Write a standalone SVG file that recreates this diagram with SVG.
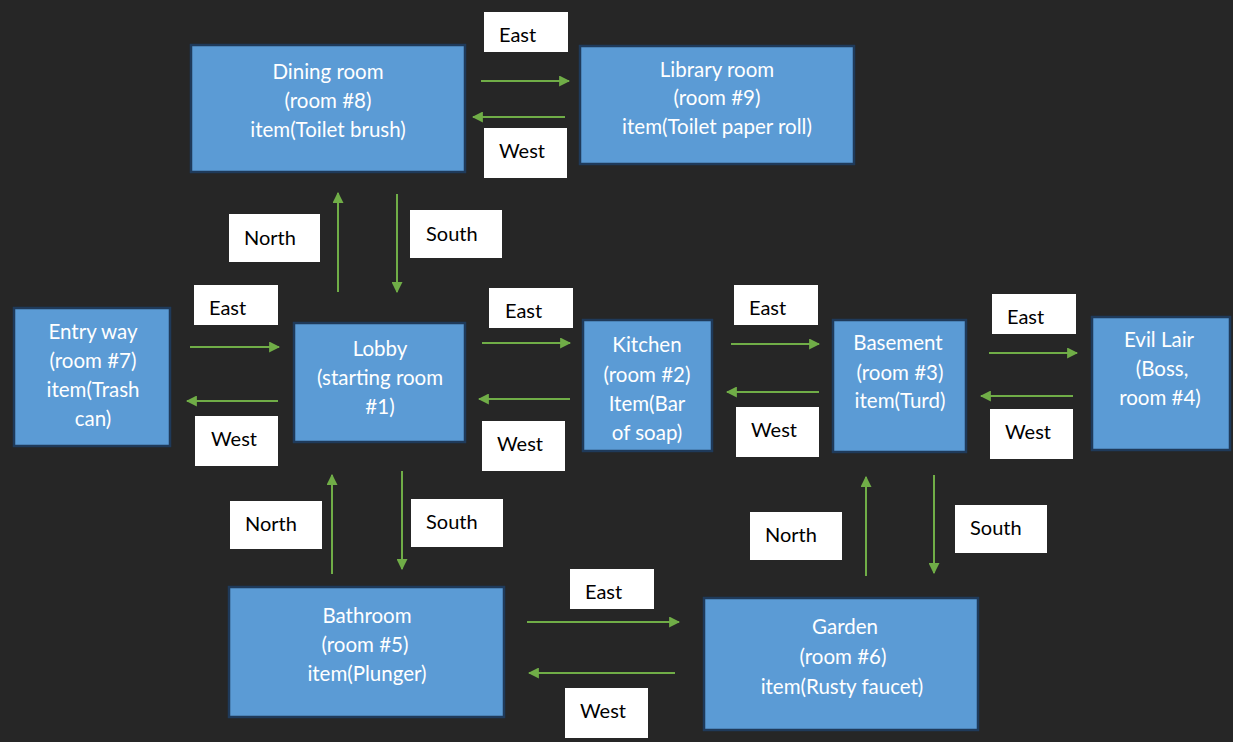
<svg xmlns="http://www.w3.org/2000/svg" width="1233" height="742" viewBox="0 0 1233 742">
<style>
.node rect{fill:#5B9BD5;stroke:#1F3A5A;stroke-width:2.5}
.node text{fill:#FFFFFF;font-family:Lato,"Open Sans","Liberation Sans",sans-serif;font-size:20.5px;text-anchor:middle;dominant-baseline:central}
.lbl rect{fill:#FFFFFF}
.lbl text{fill:#000000;font-family:Lato,"Open Sans","Liberation Sans",sans-serif;font-size:20px;dominant-baseline:central}
.conn line{stroke:#70AD47;stroke-width:2;marker-end:url(#ah)}
</style>
<defs>
<marker id="ah" viewBox="0 0 10 10" refX="9" refY="5" markerWidth="5.5" markerHeight="5.5" orient="auto" markerUnits="strokeWidth">
<path d="M0,0 L10,5 L0,10 z" fill="#70AD47"/>
</marker>
</defs>
<rect width="1233" height="742" fill="#262626"/>

<g id="dining" class="node"><rect x="191" y="45" width="274" height="127"/>
<text x="328" y="71">Dining room</text><text x="328" y="100">(room #8)</text><text x="328" y="129">item(Toilet brush)</text></g>
<g id="library" class="node"><rect x="580" y="46" width="274" height="118"/>
<text x="717" y="69">Library room</text><text x="717" y="97">(room #9)</text><text x="717" y="126">item(Toilet paper roll)</text></g>
<g id="entry" class="node"><rect x="14" y="308" width="156" height="138"/>
<text x="93" y="331">Entry way</text><text x="93" y="360">(room #7)</text><text x="93" y="389">item(Trash</text><text x="93" y="418">can)</text></g>
<g id="lobby" class="node"><rect x="294" y="323" width="171" height="119"/>
<text x="380" y="348">Lobby</text><text x="380" y="377">(starting room</text><text x="380" y="406">#1)</text></g>
<g id="kitchen" class="node"><rect x="583" y="320" width="129" height="131"/>
<text x="647" y="344">Kitchen</text><text x="647" y="374">(room #2)</text><text x="647" y="403">Item(Bar</text><text x="647" y="432">of soap)</text></g>
<g id="basement" class="node"><rect x="833" y="320" width="133" height="132"/>
<text x="898" y="342">Basement</text><text x="900" y="372">(room #3)</text><text x="900" y="400">item(Turd)</text></g>
<g id="evil" class="node"><rect x="1092" y="317" width="138" height="133"/>
<text x="1159" y="339">Evil Lair</text><text x="1162" y="368">(Boss,</text><text x="1160" y="397">room #4)</text></g>
<g id="bathroom" class="node"><rect x="229" y="587" width="275" height="130"/>
<text x="367" y="615">Bathroom</text><text x="365" y="644">(room #5)</text><text x="367" y="673">item(Plunger)</text></g>
<g id="garden" class="node"><rect x="704" y="598" width="274" height="132"/>
<text x="845" y="626">Garden</text><text x="843" y="656">(room #6)</text><text x="842" y="686">item(Rusty faucet)</text></g>

<g id="connectors" class="conn">
<line x1="481" y1="81" x2="569" y2="81"/>
<line x1="565" y1="117" x2="473" y2="117"/>
<line x1="338" y1="292" x2="338" y2="193"/>
<line x1="397" y1="194" x2="397" y2="292"/>
<line x1="190" y1="347" x2="279" y2="347"/>
<line x1="278" y1="401" x2="187" y2="401"/>
<line x1="482" y1="343" x2="570" y2="343"/>
<line x1="570" y1="399" x2="479" y2="399"/>
<line x1="731" y1="344" x2="819" y2="344"/>
<line x1="819" y1="392" x2="727" y2="392"/>
<line x1="989" y1="353" x2="1077" y2="353"/>
<line x1="1073" y1="396" x2="981" y2="396"/>
<line x1="332" y1="574" x2="332" y2="475"/>
<line x1="402" y1="471" x2="402" y2="569"/>
<line x1="527" y1="622" x2="679" y2="622"/>
<line x1="675" y1="673" x2="529" y2="673"/>
<line x1="866" y1="576" x2="866" y2="477"/>
<line x1="934" y1="475" x2="934" y2="573"/>
</g>

<g id="labels">
<g class="lbl"><rect x="484" y="12" width="84" height="40"/><text x="499" y="34">East</text></g>
<g class="lbl"><rect x="484" y="128" width="83" height="50"/><text x="499" y="150">West</text></g>
<g class="lbl"><rect x="229" y="214" width="91" height="48"/><text x="244" y="237">North</text></g>
<g class="lbl"><rect x="410" y="210" width="92" height="48"/><text x="426" y="233">South</text></g>
<g class="lbl"><rect x="194" y="285" width="84" height="40"/><text x="209" y="307">East</text></g>
<g class="lbl"><rect x="195" y="416" width="83" height="50"/><text x="211" y="438">West</text></g>
<g class="lbl"><rect x="489" y="288" width="84" height="40"/><text x="505" y="310">East</text></g>
<g class="lbl"><rect x="482" y="421" width="83" height="50"/><text x="497" y="443">West</text></g>
<g class="lbl"><rect x="734" y="285" width="84" height="40"/><text x="749" y="307">East</text></g>
<g class="lbl"><rect x="736" y="407" width="83" height="50"/><text x="751" y="429">West</text></g>
<g class="lbl"><rect x="992" y="294" width="84" height="40"/><text x="1007" y="316">East</text></g>
<g class="lbl"><rect x="990" y="409" width="83" height="50"/><text x="1005" y="431">West</text></g>
<g class="lbl"><rect x="230" y="501" width="92" height="48"/><text x="245" y="523">North</text></g>
<g class="lbl"><rect x="411" y="499" width="92" height="48"/><text x="426" y="521">South</text></g>
<g class="lbl"><rect x="570" y="569" width="84" height="40"/><text x="585" y="591">East</text></g>
<g class="lbl"><rect x="565" y="688" width="83" height="50"/><text x="580" y="710">West</text></g>
<g class="lbl"><rect x="750" y="512" width="92" height="48"/><text x="765" y="534">North</text></g>
<g class="lbl"><rect x="955" y="505" width="92" height="48"/><text x="970" y="527">South</text></g>
</g>
</svg>
